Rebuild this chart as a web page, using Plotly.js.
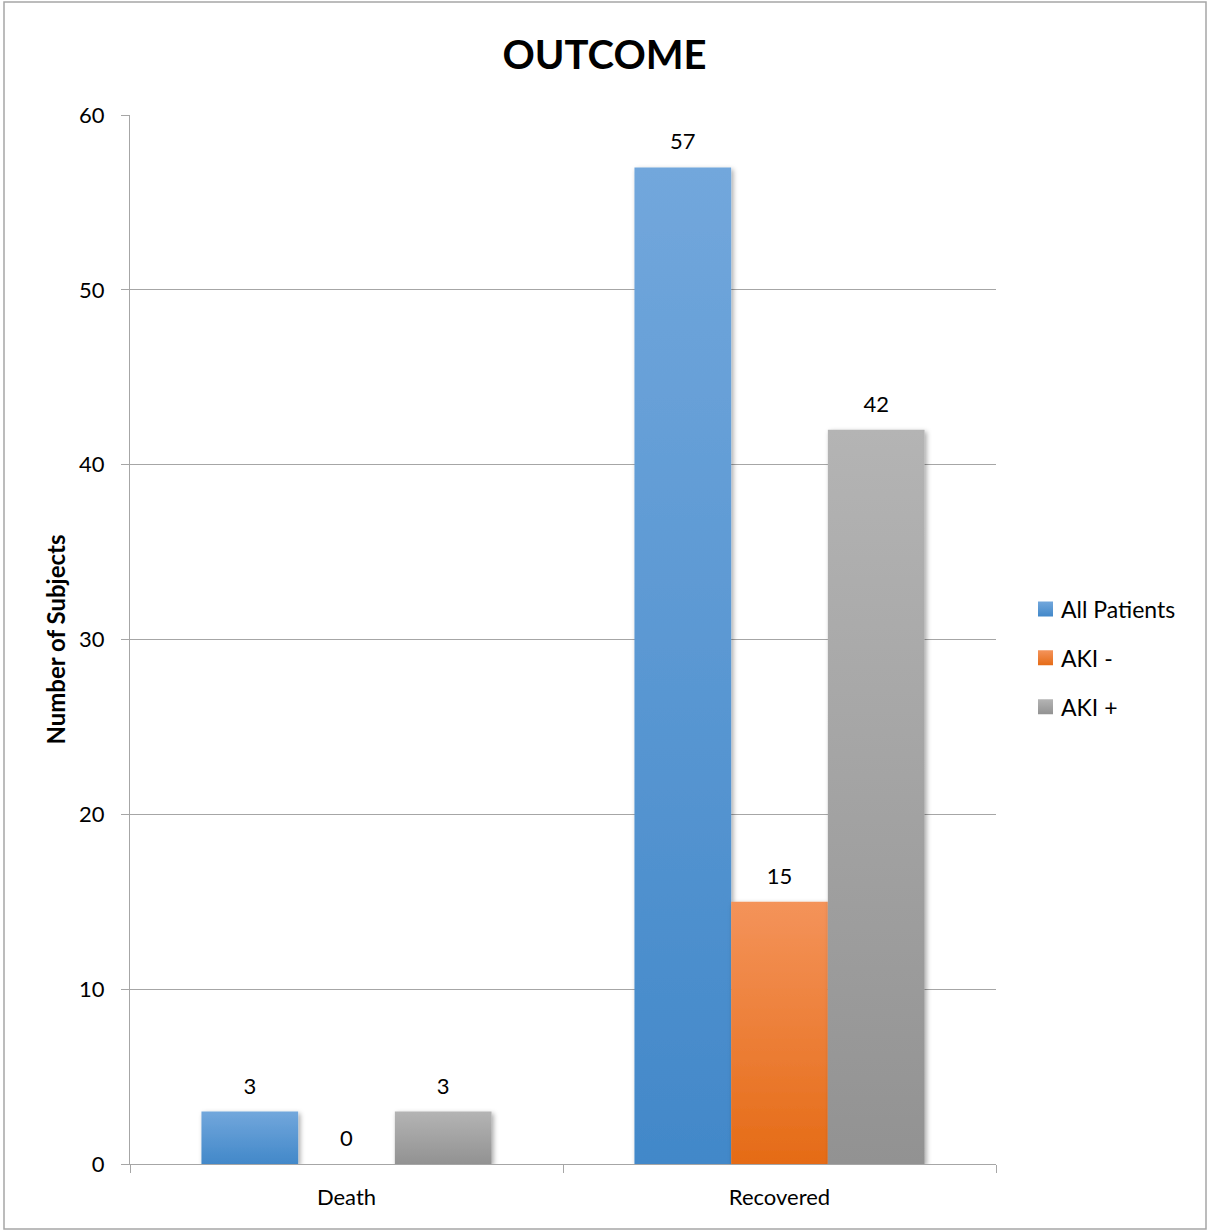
<!DOCTYPE html>
<html>
<head>
<meta charset="utf-8">
<script src="https://cdn.plot.ly/plotly-3.0.1.min.js"></script>
<style>
  html, body { margin: 0; padding: 0; background: #ffffff; }
  #chart { width: 1209px; height: 1232px; }
</style>
</head>
<body>
<div id="chart"></div>
<script>
// Patient outcome counts by AKI status
const outcomes = ['Death', 'Recovered'];
const allPatients = [3, 57];
const akiNegative = [0, 15];
const akiPositive = [3, 42];
const seriesNames = ['All Patients', 'AKI -', 'AKI +'];
const yTickValues = [0, 10, 20, 30, 40, 50, 60];

// Vertical gradient per series: [top colour, bottom colour]
const seriesGradients = [
  ['#72a7dc', '#4288c9'],
  ['#f4935a', '#e56b16'],
  ['#b4b4b4', '#929292']
];

const FONT = 'Lato, "Open Sans", sans-serif';
const GRID = '#a6a6a6';

const seriesValues = [allPatients, akiNegative, akiPositive];

const traces = seriesValues.map((vals, i) => ({
  type: 'bar',
  name: seriesNames[i],
  x: outcomes,
  y: vals,
  text: vals.map(String),
  textposition: 'outside',
  textfont: { family: FONT, size: 22, color: '#000000' },
  cliponaxis: false,
  legendgroup: 'g' + i,
  marker: { color: seriesGradients[i][1], line: { width: 0 } },
  hoverinfo: 'skip'
}));

const layout = {
  width: 1209,
  height: 1232,
  paper_bgcolor: '#ffffff',
  plot_bgcolor: '#ffffff',
  margin: { l: 130, r: 213, t: 115, b: 68, pad: 0 },
  font: { family: FONT, size: 22, color: '#000000' },
  title: {
    text: '<b>OUTCOME</b>',
    font: { family: FONT, size: 40, color: '#000000' },
    x: 0.5, xref: 'container', xanchor: 'center',
    y: 1 - 55 / 1232, yref: 'container', yanchor: 'middle'
  },
  barmode: 'group',
  bargap: 0.33,
  bargroupgap: 0,
  xaxis: {
    type: 'category',
    showline: true, linecolor: GRID, linewidth: 1,
    showgrid: false,
    ticks: 'outside', tickson: 'boundaries', ticklen: 8, tickcolor: GRID, tickwidth: 1,
    tickfont: { family: FONT, size: 22, color: '#000000' },
    ticklabelstandoff: 14,
    zeroline: false, fixedrange: true
  },
  yaxis: {
    range: [0, 60],
    tickmode: 'array', tickvals: yTickValues,
    showline: true, linecolor: GRID, linewidth: 1,
    showgrid: true, gridcolor: GRID, gridwidth: 1,
    ticks: 'outside', ticklen: 8, tickcolor: GRID, tickwidth: 1,
    tickfont: { family: FONT, size: 22, color: '#000000' },
    ticklabelstandoff: 12,
    zeroline: false, fixedrange: true,
    title: {
      text: '<b>Number of Subjects</b>',
      font: { family: FONT, size: 24, color: '#000000' },
      standoff: 6
    }
  },
  showlegend: true,
  legend: {
    x: (1021 - 130) / 866, xanchor: 'left',
    y: (1164 - 658) / 1049, yanchor: 'middle',
    traceorder: 'grouped',
    tracegroupgap: 16,
    font: { family: FONT, size: 23, color: '#000000' },
    bgcolor: 'rgba(0,0,0,0)', borderwidth: 0
  },
  shapes: [{
    type: 'rect', xref: 'paper', yref: 'paper',
    x0: (4 - 130) / 866, x1: (1206 - 130) / 866,
    y0: (1164 - 1229) / 1049, y1: (1164 - 2) / 1049,
    line: { color: '#a6a6a6', width: 1.5 },
    fillcolor: 'rgba(0,0,0,0)', layer: 'below'
  }]
};

Plotly.newPlot('chart', traces, layout, { staticPlot: true, displayModeBar: false }).then(gd => {
  const svg = gd.querySelector('svg.main-svg');
  const NS = 'http://www.w3.org/2000/svg';
  const defs = document.createElementNS(NS, 'defs');

  seriesGradients.forEach((pair, i) => {
    const lg = document.createElementNS(NS, 'linearGradient');
    lg.setAttribute('id', 'barGrad' + i);
    lg.setAttribute('x1', '0'); lg.setAttribute('y1', '0');
    lg.setAttribute('x2', '0'); lg.setAttribute('y2', '1');
    [[0, pair[0]], [1, pair[1]]].forEach(([off, col]) => {
      const st = document.createElementNS(NS, 'stop');
      st.setAttribute('offset', String(off));
      st.setAttribute('stop-color', col);
      lg.appendChild(st);
    });
    defs.appendChild(lg);
  });

  // soft shadow under the bars
  const filt = document.createElementNS(NS, 'filter');
  filt.setAttribute('id', 'barShadow');
  filt.setAttribute('x', '-20%'); filt.setAttribute('y', '-20%');
  filt.setAttribute('width', '140%'); filt.setAttribute('height', '140%');
  const ds = document.createElementNS(NS, 'feDropShadow');
  ds.setAttribute('dx', '2'); ds.setAttribute('dy', '2');
  ds.setAttribute('stdDeviation', '2.5');
  ds.setAttribute('flood-color', '#000000');
  ds.setAttribute('flood-opacity', '0.35');
  filt.appendChild(ds);
  defs.appendChild(filt);

  svg.insertBefore(defs, svg.firstChild);

  gd.querySelectorAll('.barlayer .trace.bars').forEach((tr, i) => {
    tr.querySelectorAll('.point path').forEach(p => {
      p.style.fill = 'url(#barGrad' + i + ')';
      p.setAttribute('filter', 'url(#barShadow)');
    });
    tr.querySelectorAll('text.bartext').forEach(t => {
      const tf = t.getAttribute('transform') || '';
      t.setAttribute('transform', 'translate(0,-10) ' + tf);
    });
  });

  // larger square swatches, sitting a little closer to the legend text
  gd.querySelectorAll('.legend .traces').forEach((tr, i) => {
    tr.querySelectorAll('.legendpoints path').forEach(p => {
      p.setAttribute('d', 'M7.5,7.5H-7.5V-7.5H7.5Z');
      const tf = p.getAttribute('transform') || '';
      p.setAttribute('transform', 'translate(4.5,0) ' + tf);
      p.style.fill = 'url(#barGrad' + i + ')';
    });
  });
});
</script>
</body>
</html>
